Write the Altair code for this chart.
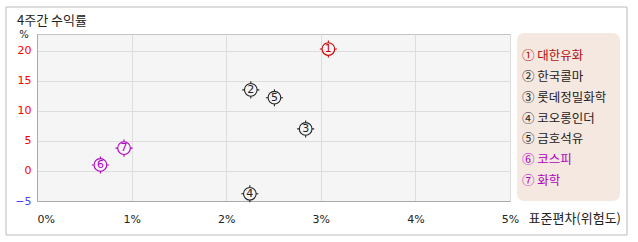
import altair as alt
import pandas as pd

names = ["대한유화", "한국콜마", "롯데정밀화학", "코오롱인더", "금호석유", "코스피", "화학"]
nums = ["1", "2", "3", "4", "5", "6", "7"]
circled = ["①", "②", "③", "④", "⑤", "⑥", "⑦"]
risk = [3.08, 2.26, 2.84, 2.25, 2.51, 0.67, 0.92]
ret = [20.3, 13.5, 7.0, -3.8, 12.2, 1.0, 3.8]
colors = ["#cc0000", "#222222", "#222222", "#222222", "#222222", "#b000c0", "#b000c0"]
legend_colors = ["#b01010", "#222222", "#222222", "#222222", "#222222", "#b000c0", "#b000c0"]
x_ticks = [0, 1, 2, 3, 4, 5]
y_ticks = [-5, 0, 5, 10, 15, 20]

df = pd.DataFrame({
    "name": names,
    "num": nums,
    "label": [c + " " + n for c, n in zip(circled, names)],
    "risk": risk,
    "ret": ret,
})
one = pd.DataFrame({"a": [0]})

FONT = "Noto Sans CJK KR"

xscale = alt.Scale(domain=[0, 5], nice=False)
yscale = alt.Scale(domain=[-5, 22.8], nice=False, zero=False)

xaxis = alt.Axis(values=x_ticks, labelExpr="datum.value + '%'", ticks=False,
                 labelPadding=12, labelFontSize=11, labelFont="DejaVu Sans", labelColor="#222222",
                 labelOverlap=False,
                 labelAlign=alt.ExprRef(expr="datum.value == 0 ? 'left' : 'center'"),
                 title="표준편차(위험도)", titleX=491, titleY=17, titleAlign="left",
                 titleBaseline="middle", titleFontWeight="normal", titleFontSize=13,
                 titleFont=FONT, titleColor="#222222", gridColor="#dddddd",
                 domainColor="#aaaaaa")
yaxis = alt.Axis(values=y_ticks, title=None, ticks=False, labelPadding=6,
                 labelFontSize=11, labelFont="DejaVu Sans", labelOverlap=False,
                 labelColor=alt.ExprRef(expr="datum.value < 0 ? '#4444ff' : '#ff0000'"),
                 gridColor="#dddddd", domainColor="#aaaaaa")
xenc = alt.X("risk:Q", scale=xscale, axis=xaxis)
yenc = alt.Y("ret:Q", scale=yscale, axis=yaxis)
cenc = alt.Color("name:N", scale=alt.Scale(domain=names, range=colors), legend=None)

border = alt.Chart(one).mark_rect(fill="transparent", stroke="#bbbbbb", strokeWidth=1).encode(
    x=alt.value(-31), x2=alt.value(590), y=alt.value(-27), y2=alt.value(201))

legend_box = alt.Chart(one).mark_rect(fill="#f5e8e1", cornerRadius=7).encode(
    x=alt.value(480), x2=alt.value(583), y=alt.value(-1), y2=alt.value(167))

title = alt.Chart(one).mark_text(text="4주간 수익률", align="left", baseline="middle",
                                 fontSize=13, font=FONT, color="#222222").encode(
    x=alt.value(-20), y=alt.value(-13))
pct = alt.Chart(one).mark_text(text="%", align="center", baseline="middle",
                               fontSize=10, font="DejaVu Sans", color="#222222").encode(
    x=alt.value(-13), y=alt.value(1))

marker_path = ("M1,0A1,1,0,1,1,-1,0A1,1,0,1,1,1,0Z"
               "M0,-1L0,-1.35M0,1L0,1.35M-1,0L-1.35,0M1,0L1.35,0")

base = alt.Chart(df)
points = base.mark_point(shape=marker_path, size=160, filled=False, strokeWidth=1.1, opacity=1).encode(
    x=xenc, y=yenc, color=cenc)
digits = base.mark_text(fontSize=11, font="DejaVu Sans", baseline="middle", align="center").encode(
    x=xenc, y=yenc, text="num:N", color=cenc)

main = alt.layer(border, points, digits, title, pct)

legend_text = base.mark_text(align="left", baseline="middle", fontSize=12.5, font=FONT).encode(
    x=alt.value(485),
    y=alt.Y("label:N", sort=list(df["label"]),
            scale=alt.Scale(type="point", range=[22, 147], padding=0), axis=None),
    text="label:N",
    color=alt.Color("name:N", scale=alt.Scale(domain=names, range=legend_colors), legend=None),
)

chart = alt.layer(main, legend_box, legend_text).resolve_scale(
    y="independent", color="independent").resolve_axis(y="independent").properties(
    width=473, height=167, autosize="none",
    padding={"left": 37, "top": 34, "right": 128, "bottom": 41},
    background="white",
).configure_view(fill="#f5f5f5", stroke="#c4c4c4")

chart.save("out.html", embed_options={"renderer": "svg", "actions": False})
